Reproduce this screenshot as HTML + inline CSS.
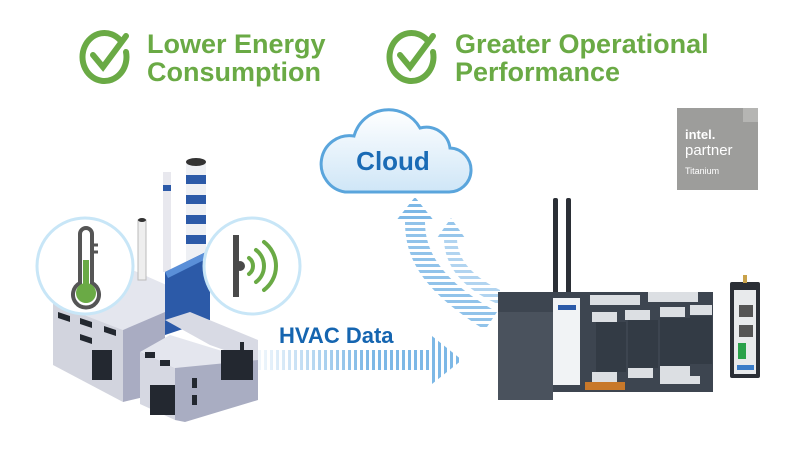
<!DOCTYPE html>
<html><head><meta charset="utf-8"><style>
html,body{margin:0;padding:0;background:#fff;width:810px;height:450px;overflow:hidden}
svg{display:block}
</style></head><body>
<svg width="810" height="450" viewBox="0 0 810 450" xmlns="http://www.w3.org/2000/svg" font-family="Liberation Sans, sans-serif">
<defs>
<linearGradient id="cl" x1="0" y1="0" x2="0" y2="1"><stop offset="0" stop-color="#ffffff"/><stop offset="1" stop-color="#cfe6f7"/></linearGradient>
<pattern id="hs" width="6" height="10" patternUnits="userSpaceOnUse"><rect width="3" height="10" fill="#7db8e6"/></pattern>
<linearGradient id="fade" x1="0" y1="0" x2="1" y2="0"><stop offset="0" stop-color="#fff" stop-opacity="0.9"/><stop offset="1" stop-color="#fff" stop-opacity="0"/></linearGradient>
<pattern id="vs" width="10" height="6" patternUnits="userSpaceOnUse"><rect width="10" height="3" fill="#7db8e6"/></pattern>
</defs>
<!-- header -->
<g fill="none" stroke="#6aaa45" stroke-width="6" stroke-linecap="round">
<path d="M120 40 A22 24 0 1 0 126 52"/><path d="M93 55 L103 67 L126 36"/>
<path d="M427 40 A22 24 0 1 0 433 52"/><path d="M400 55 L410 67 L433 36"/>
</g>
<g fill="#6aaa45" font-weight="bold" font-size="27">
<text x="147" y="53">Lower Energy</text><text x="147" y="81">Consumption</text>
<text x="455" y="53">Greater Operational</text><text x="455" y="81">Performance</text>
</g>
<!-- cloud -->
<path d="M345 192 H448 A22 22 0 0 0 450 148 A24 24 0 0 0 420 128 A36 36 0 0 0 354 136 A28 28 0 0 0 345 192 Z" fill="url(#cl)" stroke="#5aa5dc" stroke-width="3"/>
<text x="393" y="170" text-anchor="middle" font-size="26" font-weight="bold" fill="#1a6bb5">Cloud</text>
<!-- up arrows -->
<path d="M405 222 C405 265 430 295 485 330 L497 312 C450 285 425 258 425 222 Z" fill="url(#vs)" opacity="0.85"/>
<polygon points="395,222 415,197 435,222" fill="url(#vs)"/>
<path d="M444 238 C444 268 465 290 500 305 L500 290 C470 275 457 258 457 238 Z" fill="url(#vs)" opacity="0.6"/>
<polygon points="437,238 451,218 465,238" fill="url(#vs)" opacity="0.8"/>
<!-- horizontal arrow -->
<rect x="258" y="350" width="175" height="20" fill="url(#hs)"/>
<rect x="258" y="349" width="110" height="22" fill="url(#fade)"/>
<polygon points="432,336 462,360 432,384" fill="url(#hs)"/>
<text x="279" y="343" font-size="22" font-weight="bold" fill="#1565b0">HVAC Data</text>
<!-- factory -->
<g>
<polygon points="53,303 128,268 205,302 123,330" fill="#e4e6ee"/>
<rect x="163" y="172" width="8" height="100" fill="#e8e8ee"/><rect x="163" y="185" width="8" height="6" fill="#2c5aa8"/>
<rect x="186" y="162" width="20" height="125" fill="#eef0f4"/>
<rect x="186" y="175" width="20" height="9" fill="#2c5aa8"/><rect x="186" y="195" width="20" height="9" fill="#2c5aa8"/><rect x="186" y="215" width="20" height="9" fill="#2c5aa8"/><rect x="186" y="235" width="20" height="9" fill="#2c5aa8"/>
<ellipse cx="196" cy="162" rx="10" ry="4" fill="#333"/>
<rect x="138" y="220" width="8" height="60" fill="#eee" stroke="#bbb"/><ellipse cx="142" cy="220" rx="4" ry="2" fill="#333"/>
<polygon points="53,303 123,330 123,402 53,365" fill="#d2d4de"/>
<polygon points="123,330 165,312 165,392 123,402" fill="#a9acc2"/>
<polygon points="165,272 210,250 210,320 165,335" fill="#2c5aa8"/>
<polygon points="165,272 210,250 212,256 168,278" fill="#5a8fd8"/>
<polygon points="140,352 170,335 258,362 175,368" fill="#e4e6ee"/>
<polygon points="165,320 190,312 258,340 258,362 210,345" fill="#d8dae4"/>
<polygon points="140,352 175,368 175,420 140,404" fill="#d6d8e2"/>
<polygon points="175,368 258,360 258,400 185,422 175,420" fill="#a9adc2"/>
<g fill="#232830">
<rect x="92" y="350" width="20" height="30"/><rect x="221" y="350" width="32" height="30"/>
<rect x="150" y="385" width="25" height="30"/>
<polygon points="58,312 70,316 70,322 58,318"/><polygon points="80,318 92,322 92,328 80,324"/><polygon points="104,326 116,330 116,336 104,332"/><polygon points="80,334 92,338 92,344 80,340"/>
<rect x="145" y="352" width="10" height="6"/><rect x="160" y="360" width="10" height="6"/><rect x="192" y="378" width="5" height="10"/><rect x="192" y="395" width="5" height="10"/><rect x="240" y="342" width="4" height="8"/></g>
</g>
<!-- bubbles -->
<circle cx="85" cy="266" r="48" fill="#fff" stroke="#c8e6f7" stroke-width="3"/>
<g fill="none" stroke="#555" stroke-width="4"><path d="M80 234 V283 A13 13 0 1 0 92 283 V234 A6 6 0 0 0 80 234 Z"/></g>
<circle cx="86" cy="293" r="10" fill="#6aaa45"/><rect x="83" y="260" width="6" height="30" fill="#6aaa45"/>
<g stroke="#555" stroke-width="3"><line x1="92" y1="245" x2="98" y2="245"/><line x1="92" y1="252" x2="98" y2="252"/></g>
<circle cx="252" cy="266" r="48" fill="#fff" stroke="#c8e6f7" stroke-width="3"/>
<rect x="233" y="235" width="6" height="62" fill="#4a4a4a"/><circle cx="240" cy="266" r="5" fill="#4a4a4a"/>
<g fill="none" stroke="#6aaa45" stroke-width="4" stroke-linecap="round"><path d="M249 258 A10 10 0 0 1 249 274"/><path d="M256 250 A20 20 0 0 1 256 282"/><path d="M264 242 A30 30 0 0 1 264 290"/></g>
<!-- intel badge -->
<rect x="677" y="108" width="81" height="82" fill="#9d9d9b"/>
<rect x="743" y="108" width="15" height="14" fill="#b5b5b3"/>
<text x="685" y="139" font-size="13" font-weight="bold" fill="#fff">intel.</text>
<text x="685" y="155" font-size="15" fill="#fff">partner</text>
<text x="685" y="174" font-size="9" fill="#fff">Titanium</text>
<!-- device -->
<rect x="553" y="198" width="5" height="105" rx="2" fill="#2b2f36"/><rect x="566" y="198" width="5" height="105" rx="2" fill="#2b2f36"/>
<rect x="498" y="292" width="215" height="100" fill="#3d4550"/>
<rect x="498" y="312" width="55" height="88" fill="#4a525d"/>
<rect x="553" y="298" width="27" height="87" fill="#f1f3f5"/><rect x="558" y="305" width="18" height="5" fill="#2c5aa8"/>
<g fill="#dcdfe3"><rect x="590" y="295" width="50" height="10"/><rect x="648" y="292" width="50" height="10"/>
<rect x="592" y="312" width="25" height="10"/><rect x="625" y="310" width="25" height="10"/><rect x="660" y="307" width="25" height="10"/><rect x="690" y="305" width="22" height="10"/>
<rect x="592" y="372" width="25" height="10"/><rect x="628" y="368" width="25" height="10"/><rect x="660" y="366" width="30" height="10"/><rect x="660" y="376" width="40" height="8"/></g>
<g fill="#333b45"><rect x="596" y="322" width="30" height="50"/><rect x="628" y="320" width="30" height="48"/><rect x="660" y="318" width="30" height="48"/><rect x="690" y="316" width="22" height="48"/></g>
<rect x="585" y="382" width="40" height="8" fill="#c8782a"/>
<rect x="730" y="282" width="30" height="96" rx="2" fill="#2b2f36"/><rect x="734" y="290" width="22" height="84" fill="#e8eaec"/>
<rect x="739" y="305" width="14" height="12" fill="#555"/><rect x="739" y="325" width="14" height="12" fill="#555"/>
<rect x="738" y="343" width="8" height="16" fill="#2aa14a"/><rect x="737" y="365" width="17" height="5" fill="#3a7cc8"/>
<rect x="743" y="275" width="4" height="8" fill="#c9a24a"/>
</svg>
</body></html>
